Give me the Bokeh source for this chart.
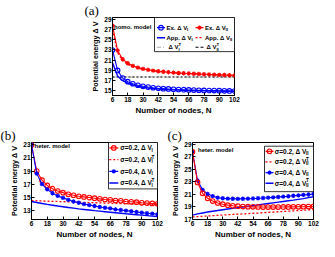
from bokeh.plotting import figure
from bokeh.layouts import column, row
from bokeh.models import FixedTicker, Range1d
from bokeh.embed import file_html
from bokeh.resources import INLINE
from bokeh.core.properties import value

# ---------------- data ----------------
N = [6, 10, 14, 18, 22, 26, 30, 34, 38, 42, 46, 50, 54, 58, 62, 66, 70, 74, 78, 82, 86, 90, 94, 98, 102]
x_ticks = [6, 18, 30, 42, 54, 66, 78, 90, 102]

# (a) homogeneous model
a_ex_I = [23.0, 19.0, 17.5, 16.8, 16.4, 16.1, 15.9, 15.75, 15.62, 15.52, 15.44, 15.38, 15.32,
          15.27, 15.23, 15.19, 15.16, 15.13, 15.1, 15.08, 15.06, 15.04, 15.02, 15.0, 14.98]
a_ex_II = [27.8, 22.9, 21.2, 20.4, 19.9, 19.55, 19.3, 19.12, 18.97, 18.85, 18.75, 18.66, 18.58,
           18.51, 18.45, 18.4, 18.35, 18.3, 18.26, 18.22, 18.18, 18.14, 18.1, 18.06, 18.02]
a_app_I = [20.5, 17.9, 17.0, 16.5, 16.15, 15.9, 15.72, 15.58, 15.47, 15.38, 15.31, 15.25, 15.2,
           15.16, 15.12, 15.09, 15.06, 15.03, 15.01, 14.99, 14.97, 14.95, 14.94, 14.92, 14.91]
a_app_II = [27.0, 22.5, 20.9, 20.2, 19.75, 19.45, 19.22, 19.05, 18.92, 18.8, 18.7, 18.62, 18.55,
            18.48, 18.43, 18.38, 18.33, 18.29, 18.25, 18.21, 18.17, 18.13, 18.1, 18.06, 18.02]
a_T_I = 17.72
a_T_II = 17.72
a_yticks = [15, 17, 19, 21, 23, 25, 27, 29]

# (b) heterogeneous model, Delta V_I
b_ex_02 = [23.0, 19.0, 17.6, 16.8, 16.3, 15.95, 15.7, 15.45, 15.3, 15.15, 15.05, 14.95, 14.85,
           14.75, 14.65, 14.6, 14.5, 14.45, 14.35, 14.3, 14.25, 14.15, 14.1, 14.05, 14.0]
b_ex_04 = [23.0, 18.6, 17.0, 16.2, 15.6, 15.2, 14.9, 14.6, 14.35, 14.15, 13.95, 13.8, 13.65,
           13.5, 13.4, 13.3, 13.15, 13.05, 12.95, 12.85, 12.75, 12.65, 12.55, 12.5, 12.4]
b_T_02 = [14.5, 14.46, 14.43, 14.4, 14.37, 14.35, 14.32, 14.29, 14.27, 14.24, 14.21, 14.19, 14.16,
          14.13, 14.11, 14.08, 14.05, 14.03, 14.0, 13.97, 13.95, 13.92, 13.89, 13.86, 13.84]
b_T_04 = [14.35, 14.2, 14.05, 13.9, 13.78, 13.66, 13.55, 13.44, 13.33, 13.22, 13.13, 13.04, 12.95,
          12.87, 12.79, 12.71, 12.63, 12.55, 12.47, 12.4, 12.33, 12.26, 12.19, 12.12, 12.05]
b_yticks = [13, 15, 17, 19, 21, 23]

# (c) heterogeneous model, Delta V_II
c_ex_02 = [27.8, 22.9, 21.15, 20.35, 19.9, 19.6, 19.4, 19.25, 19.15, 19.08, 19.03, 19.0, 18.98,
           18.96, 18.95, 18.95, 18.95, 18.95, 18.96, 18.97, 18.98, 18.99, 19.0, 19.02, 19.04]
c_ex_04 = [27.8, 23.2, 21.7, 21.05, 20.7, 20.45, 20.35, 20.3, 20.27, 20.26, 20.27, 20.29, 20.32,
           20.36, 20.4, 20.45, 20.5, 20.56, 20.62, 20.68, 20.75, 20.82, 20.9, 20.97, 21.05]
c_T_02 = [17.35, 17.41, 17.46, 17.51, 17.56, 17.61, 17.66, 17.71, 17.76, 17.8, 17.85, 17.9, 17.95,
          17.99, 18.04, 18.09, 18.14, 18.19, 18.24, 18.28, 18.33, 18.38, 18.43, 18.49, 18.55]
c_T_04 = [17.65, 17.85, 18.0, 18.15, 18.28, 18.4, 18.52, 18.63, 18.74, 18.85, 18.96, 19.07, 19.18,
          19.29, 19.4, 19.51, 19.62, 19.73, 19.84, 19.95, 20.06, 20.18, 20.3, 20.45, 20.6]
c_yticks = [17, 19, 21, 23, 25, 27, 29]

# ---------------- styling helpers ----------------
SANS = "Liberation Sans"
SERIF = "Liberation Serif"
BLUE = "#0000ff"
RED = "#ff0000"
DOT = "2 2"

EM = {' ': 0.278, '.': 0.278, ',': 0.278, '=': 0.584, '0': 0.556, '2': 0.556, '4': 0.556,
      'E': 0.667, 'x': 0.556, 'A': 0.722, 'p': 0.611, 'V': 0.667, 'Δ': 0.66, 'σ': 0.62,
      'I': 0.278, 'T': 0.611}


def tw(s, size):
    return sum(EM.get(c, 0.56) for c in s) * size


def new_fig(w, h, bl, br, bt, bb, yr, yt, tag, tag_dx):
    p = figure(width=w, height=h, x_range=Range1d(6, 102), y_range=Range1d(*yr),
               output_backend="svg", toolbar_location=None,
               min_border_left=bl, min_border_right=br, min_border_top=bt, min_border_bottom=bb)
    p.title.text = tag
    p.title.align = "left"
    p.title.offset = tag_dx
    p.title.standoff = 0
    p.title.text_font = SERIF
    p.title.text_font_size = "13px"
    p.title.text_font_style = "normal"
    p.title.text_color = "black"
    p.xaxis.ticker = FixedTicker(ticks=x_ticks)
    p.yaxis.ticker = FixedTicker(ticks=yt)
    p.xaxis.axis_label = "Number of nodes, N"
    p.yaxis.axis_label = "Potential energy Δ V"
    for ax in (p.xaxis[0], p.yaxis[0]):
        ax.major_tick_in = 3
        ax.major_tick_out = 0
        ax.minor_tick_line_color = None
        ax.axis_line_color = "black"
        ax.major_tick_line_color = "black"
        ax.major_label_text_font = SANS
        ax.major_label_text_font_style = "bold"
        ax.major_label_text_font_size = "6.5px"
        ax.major_label_text_color = "black"
        ax.major_label_standoff = 1
        ax.axis_label_text_font = SANS
        ax.axis_label_text_font_style = "bold"
        ax.axis_label_text_color = "black"
        ax.axis_label_standoff = 1
    p.xaxis.axis_label_text_font_size = "8px"
    p.yaxis.axis_label_text_font_size = "7.2px"
    p.grid.visible = False
    p.outline_line_color = "black"
    p.outline_line_alpha = 1
    p.outline_line_width = 1
    return p, (w - bl - br, h - bt - bb)


def X(p, geo, px):
    return p.x_range.start + px * (p.x_range.end - p.x_range.start) / geo[0]


def Y(p, geo, py):
    return p.y_range.end - py * (p.y_range.end - p.y_range.start) / geo[1]


def put_text(p, geo, px, py, s, size, font=SANS):
    p.text(x=[X(p, geo, px)], y=[Y(p, geo, py)], text=[s], text_font=value(font),
           text_font_size=f"{size}px", text_font_style="bold", text_baseline="middle",
           text_align="left", text_color="black")


def rich(p, geo, px, py, main, sub, sup=None, size=6.5):
    put_text(p, geo, px, py, main, size)
    end = px + tw(main, size) + 0.3
    put_text(p, geo, end, py + 2.2, sub, round(size * 0.72, 1))
    if sup:
        put_text(p, geo, end, py - 2.6, sup, round(size * 0.72, 1))


def box(p, geo, x0, x1, y0, y1):
    p.quad(left=[X(p, geo, x0)], right=[X(p, geo, x1)], top=[Y(p, geo, y0)],
           bottom=[Y(p, geo, y1)], fill_color="white", line_color="black", line_width=0.8)


def sample(p, geo, x0, x1, py, color, dash="solid", width=1.3, marker=None):
    p.line(x=[X(p, geo, x0), X(p, geo, x1)], y=[Y(p, geo, py)] * 2, line_color=color,
           line_dash=dash, line_width=width)
    if marker:
        draw_marker(p, [X(p, geo, (x0 + x1) / 2)], [Y(p, geo, py)], color, marker)


def draw_marker(p, xs, ys, color, marker):
    if marker == "circle":
        p.scatter(x=xs, y=ys, marker="circle", size=4.6, line_color=color, fill_color=None,
                  line_width=1.1)
    else:
        p.scatter(x=xs, y=ys, marker="asterisk", size=4.4, line_color=color, line_width=1.1)


def series(p, ys, color, marker):
    p.line(x=N, y=ys, line_color=color, line_width=1.1)
    draw_marker(p, N, ys, color, marker)


# ---------------- (a) ----------------
fa, ga = new_fig(319, 117, 112, 85, 15, 22, (14.1, 29.35), a_yticks, "(a)", -28)
fa.line(x=N, y=[a_T_I] * len(N), line_color="#aaaaaa", line_dash="4 2 1 2", line_width=1)
fa.line(x=N, y=[a_T_II] * len(N), line_color="black", line_dash=DOT, line_width=1.1)
fa.line(x=N, y=a_app_I, line_color=BLUE, line_width=1.4)
fa.line(x=N, y=a_app_II, line_color=RED, line_dash=DOT, line_width=1.3)
series(fa, a_ex_II, RED, "asterisk")
series(fa, a_ex_I, BLUE, "circle")
put_text(fa, ga, 1.5, 9.5, "homo. model", 6)
box(fa, ga, 42, 122, 0, 35)
sample(fa, ga, 44.5, 52.5, 10.4, BLUE, marker="circle")
rich(fa, ga, 54, 10.4, "Ex. Δ V", "I", size=6)
sample(fa, ga, 83, 91, 10.4, RED, marker="asterisk")
rich(fa, ga, 92.5, 10.4, "Ex. Δ V", "II", size=6)
sample(fa, ga, 44.5, 52.5, 20.7, BLUE, width=1.5)
rich(fa, ga, 54, 20.7, "App. Δ V", "I", size=6)
sample(fa, ga, 83, 91, 20.7, RED, dash=DOT, width=1.3)
rich(fa, ga, 92.5, 20.7, "App. Δ V", "II", size=6)
sample(fa, ga, 44.5, 52.5, 30.5, "#aaaaaa", dash="4 2 1 2", width=1)
rich(fa, ga, 56, 30.5, "Δ V", "I", "T", size=6)
sample(fa, ga, 83, 91, 30.5, "black", dash="3 2", width=1)
rich(fa, ga, 94, 30.5, "Δ V", "II", "T", size=6)

# ---------------- (b) ----------------
fb, gb = new_fig(166, 124, 31, 9, 25, 21, (11.6, 23.35), b_yticks, "(b)", -31)
fb.line(x=N, y=b_T_02, line_color=RED, line_dash=DOT, line_width=1.3)
fb.line(x=N, y=b_T_04, line_color=BLUE, line_width=1.4)
series(fb, b_ex_02, RED, "circle")
series(fb, b_ex_04, BLUE, "asterisk")
put_text(fb, gb, 3, 4, "heter. model", 6)
box(fb, gb, 77, 126, 0, 47)
sample(fb, gb, 77.8, 86.8, 5.5, RED, marker="circle")
rich(fb, gb, 88.8, 5.5, "σ=0.2, Δ V", "I")
sample(fb, gb, 77.8, 86.8, 17.3, RED, dash=DOT)
rich(fb, gb, 88.8, 17.3, "σ=0.2, Δ V", "I", "T")
sample(fb, gb, 77.8, 86.8, 29.2, BLUE, marker="asterisk")
rich(fb, gb, 88.8, 29.2, "σ=0.4, Δ V", "I")
sample(fb, gb, 77.8, 86.8, 41, BLUE, width=1.5)
rich(fb, gb, 88.8, 41, "σ=0.4, Δ V", "I", "T")

# ---------------- (c) ----------------
fc, gc = new_fig(153, 124, 26, 6, 21, 20, (16.95, 29.3), c_yticks, "(c)", -25)
fc.line(x=N, y=c_T_02, line_color=RED, line_dash=DOT, line_width=1.3)
fc.line(x=N, y=c_T_04, line_color=BLUE, line_width=1.4)
series(fc, c_ex_04, BLUE, "asterisk")
series(fc, c_ex_02, RED, "circle")
put_text(fc, gc, 5.5, 8.2, "heter. model", 6)
box(fc, gc, 72, 121, 4, 53)
sample(fc, gc, 73, 81, 9.5, RED, marker="circle")
rich(fc, gc, 82.3, 9.5, "σ=0.2, Δ V", "II")
sample(fc, gc, 73, 81, 20.8, RED, dash=DOT)
rich(fc, gc, 82.3, 20.8, "σ=0.2, Δ V", "II", "T")
sample(fc, gc, 73, 81, 32.5, BLUE, marker="asterisk")
rich(fc, gc, 82.3, 32.5, "σ=0.4, Δ V", "II")
sample(fc, gc, 73, 81, 44, BLUE, width=1.5)
rich(fc, gc, 82.3, 44, "σ=0.4, Δ V", "II", "T")

layout = column(fa, row(fb, fc))
open("out.html", "w").write(file_html(layout, INLINE))
